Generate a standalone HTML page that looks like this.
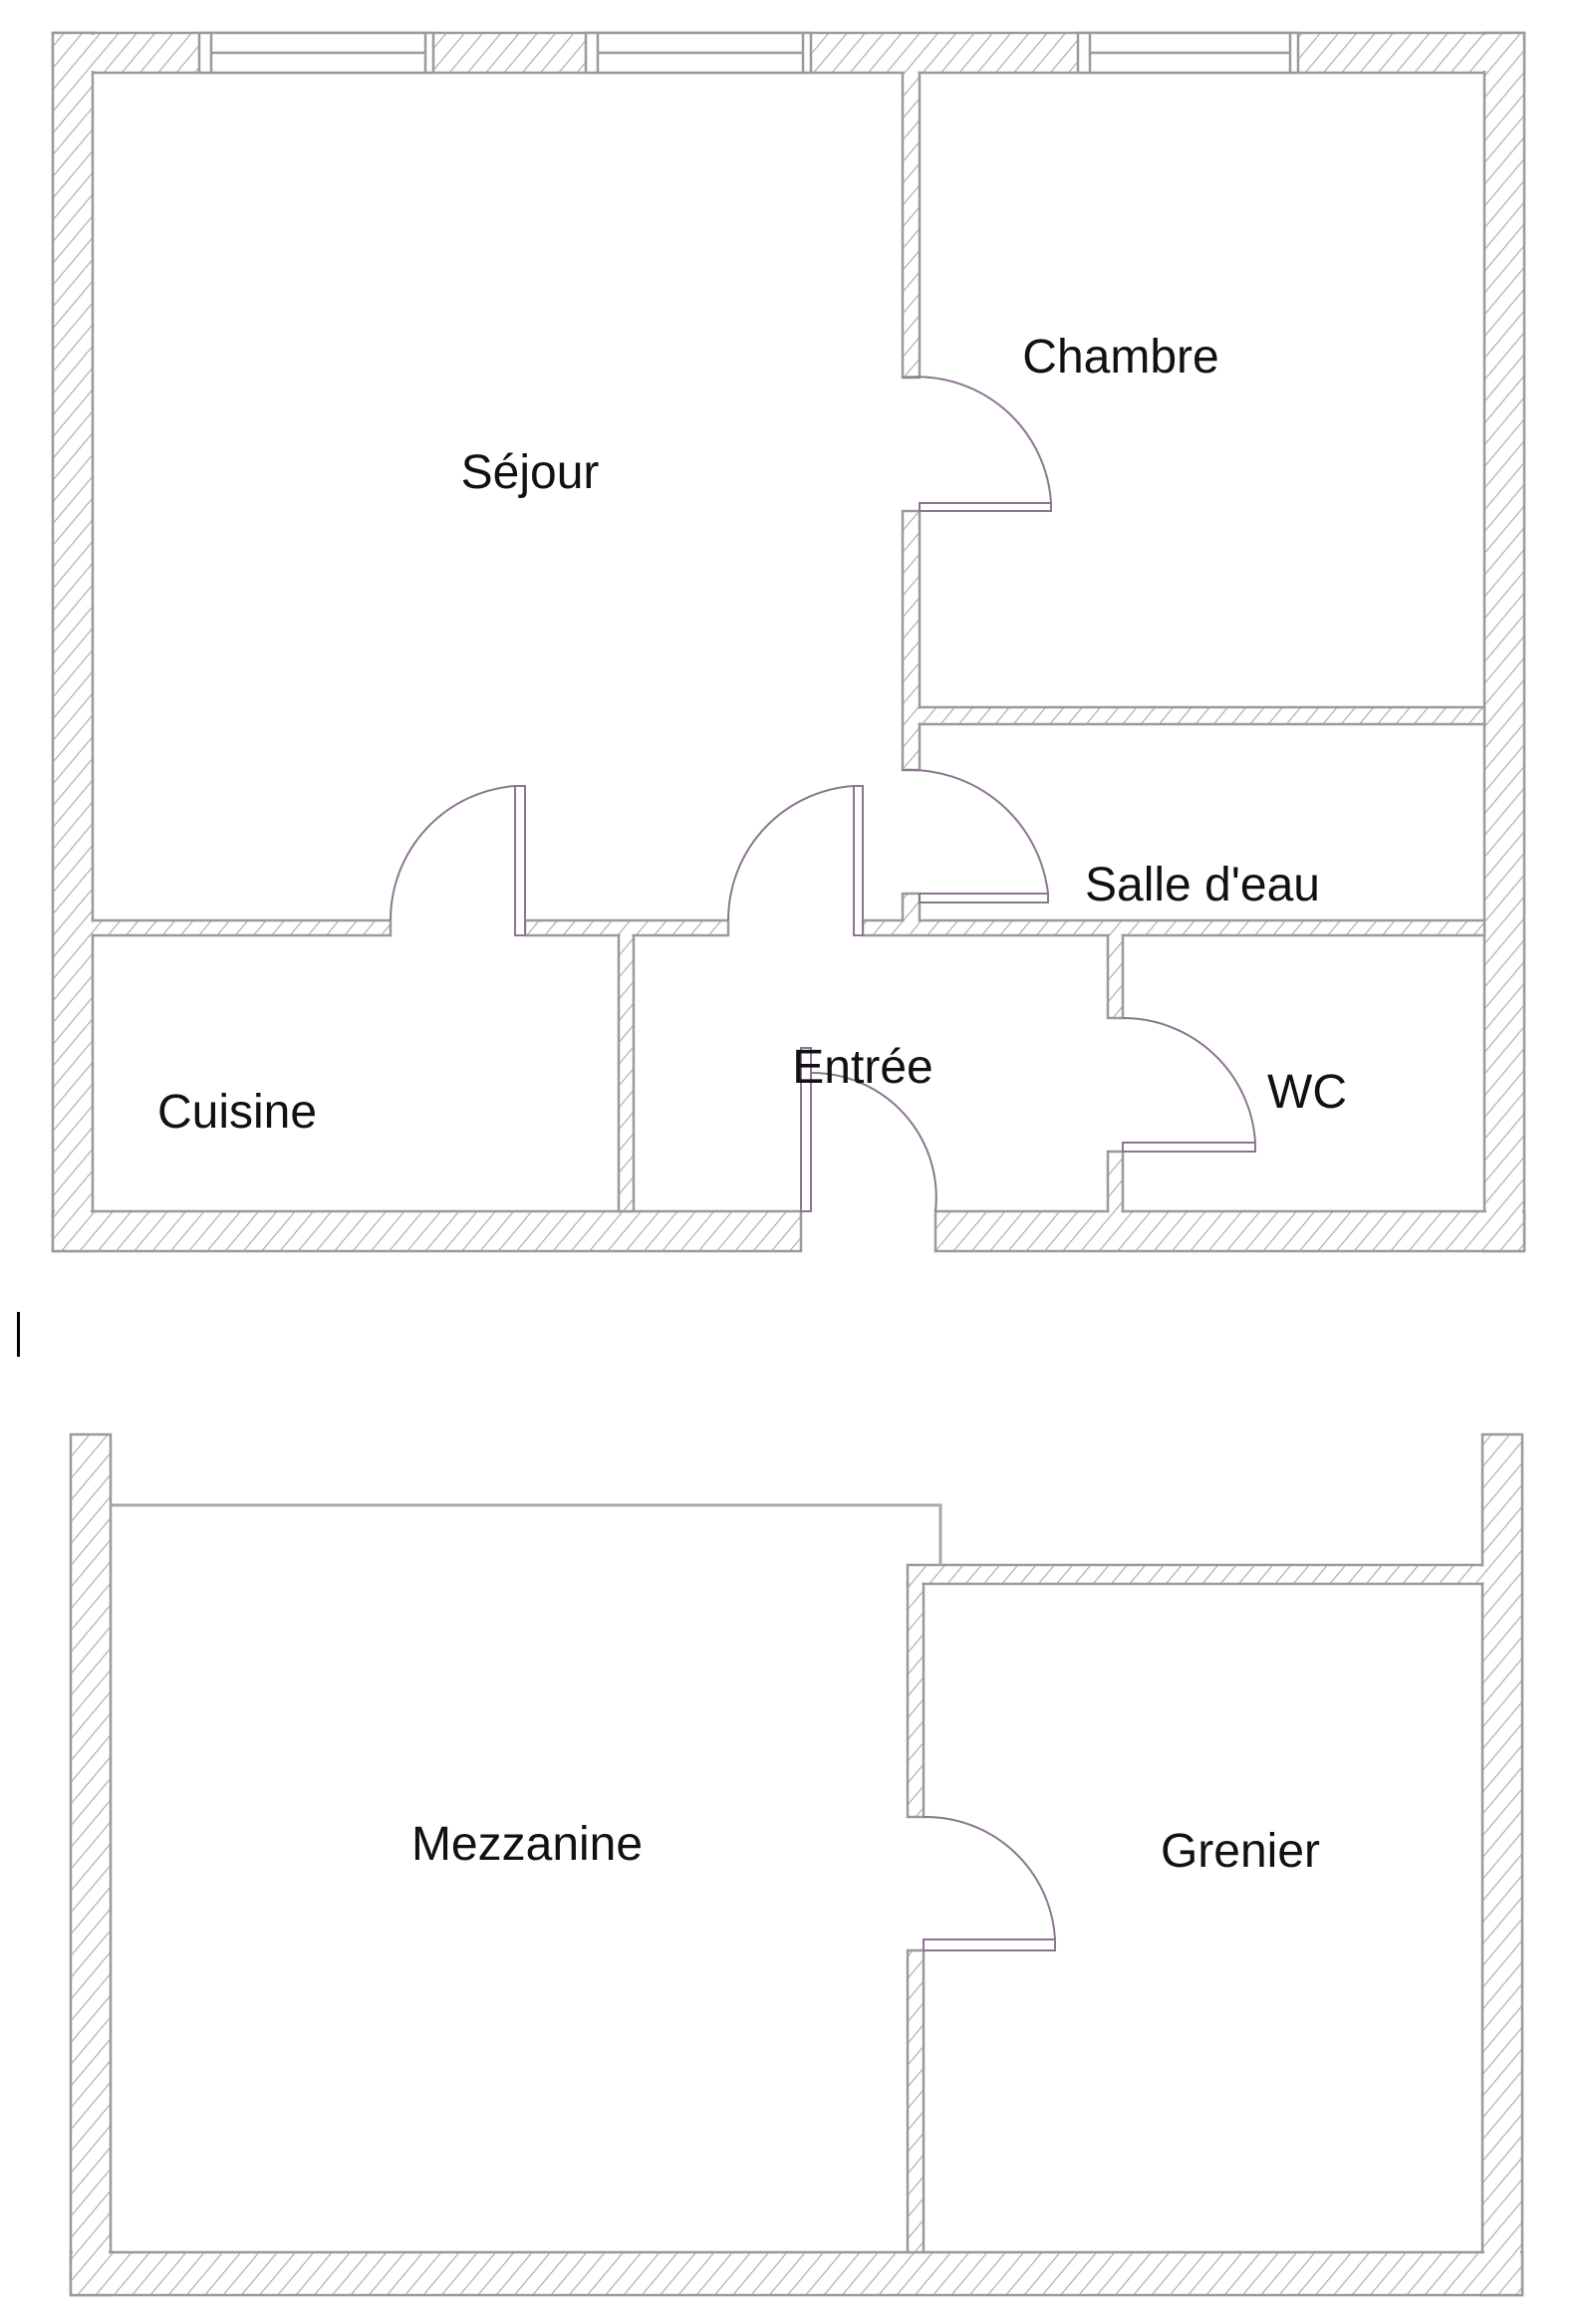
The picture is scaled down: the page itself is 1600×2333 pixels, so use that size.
<!DOCTYPE html>
<html><head><meta charset="utf-8"><style>
html,body{margin:0;padding:0;background:#fff;}
svg{display:block;}
text{font-family:"Liberation Sans",Arial,sans-serif;font-size:48px;fill:#111;text-anchor:middle;}
</style></head><body>
<svg width="1600" height="2333" viewBox="0 0 1600 2333" xmlns="http://www.w3.org/2000/svg">
<defs>
<pattern id="h" patternUnits="userSpaceOnUse" width="14" height="14" patternTransform="rotate(40)">
<rect width="14" height="14" fill="#fff"/>
<line x1="0" y1="0" x2="0" y2="14" stroke="#a8a8a8" stroke-width="2.2"/>
</pattern>
</defs>
<g id="walls" stroke="#9a9a9a" stroke-width="2.5" fill="url(#h)">
<rect x="53" y="33" width="1477" height="40"/>
<rect x="53" y="33" width="40" height="1223"/>
<rect x="1490" y="33" width="40" height="1223"/>
<rect x="53" y="1216" width="751" height="40"/>
<rect x="939" y="1216" width="591" height="40"/>
<rect x="906" y="73" width="17" height="306"/>
<rect x="906" y="513" width="17" height="260"/>
<rect x="906" y="897" width="17" height="27"/>
<rect x="923" y="710" width="567" height="17"/>
<rect x="93" y="924" width="299" height="15"/>
<rect x="527" y="924" width="204" height="15"/>
<rect x="866" y="924" width="624" height="15"/>
<rect x="621" y="939" width="15" height="277"/>
<rect x="1112" y="939" width="15" height="83"/>
<rect x="1112" y="1156" width="15" height="60"/>
<rect x="71" y="1440" width="40" height="864"/>
<rect x="1488" y="1440" width="40" height="864"/>
<rect x="71" y="2261" width="1457" height="43"/>
<rect x="911" y="1571" width="577" height="19"/>
<rect x="911" y="1590" width="16" height="234"/>
<rect x="911" y="1958" width="16" height="303"/>
</g>
<!-- cover internal junction lines -->
<g fill="url(#h)" stroke="none">
<rect x="55" y="35" width="1473" height="36"/>
<rect x="55" y="35" width="36" height="1219"/>
<rect x="1492" y="35" width="36" height="1219"/>
<rect x="55" y="1218" width="747" height="36"/>
<rect x="941" y="1218" width="587" height="36"/>
<rect x="907.5" y="70" width="14" height="307"/>
<rect x="907.5" y="515" width="14" height="256"/>
<rect x="907.5" y="899" width="14" height="36"/>
<rect x="920" y="711.5" width="568" height="14"/>
<rect x="90" y="925.5" width="300" height="12"/>
<rect x="529" y="925.5" width="200" height="12"/>
<rect x="868" y="925.5" width="620" height="12"/>
<rect x="622.5" y="936" width="12" height="278"/>
<rect x="1113.5" y="936" width="12" height="84"/>
<rect x="1113.5" y="1158" width="12" height="60"/>
<rect x="73" y="1442" width="36" height="860"/>
<rect x="1490" y="1442" width="36" height="860"/>
<rect x="73" y="2263" width="1453" height="39"/>
<rect x="913" y="1572.5" width="577" height="16"/>
<rect x="912.5" y="1586" width="13" height="236"/>
<rect x="912.5" y="1960" width="13" height="299"/>
</g>
<!-- windows -->
<g fill="#fff" stroke="#9a9a9a" stroke-width="2.5">
<rect x="200" y="33" width="235" height="40"/>
<rect x="588" y="33" width="226" height="40"/>
<rect x="1082" y="33" width="221" height="40"/>
</g>
<g stroke="#9a9a9a" stroke-width="2.5">
<line x1="212" y1="33" x2="212" y2="73"/><line x1="427" y1="33" x2="427" y2="73"/><line x1="212" y1="53" x2="427" y2="53"/>
<line x1="600" y1="33" x2="600" y2="73"/><line x1="806" y1="33" x2="806" y2="73"/><line x1="600" y1="53" x2="806" y2="53"/>
<line x1="1094" y1="33" x2="1094" y2="73"/><line x1="1295" y1="33" x2="1295" y2="73"/><line x1="1094" y1="53" x2="1295" y2="53"/>
</g>
<!-- doors -->
<g fill="#fff" stroke="#8c7590" stroke-width="2">
<rect x="517" y="789" width="10" height="150"/>
<path d="M392,924 A135,135 0 0 1 517,789" fill="none"/>
<rect x="857" y="789" width="9" height="150"/>
<path d="M731,924 A135,135 0 0 1 857,789" fill="none"/>
<rect x="923" y="897" width="129" height="9"/>
<path d="M906,773 A140,140 0 0 1 1052,897" fill="none"/>
<rect x="923" y="505" width="132" height="8"/>
<path d="M906,379 A135,135 0 0 1 1055,505" fill="none"/>
<rect x="1127" y="1147" width="133" height="9"/>
<path d="M1127,1022 A133,133 0 0 1 1260,1147" fill="none"/>
<rect x="804" y="1052" width="10" height="164"/>
<path d="M814,1077 A125,125 0 0 1 939,1216" fill="none"/>
<rect x="927" y="1947" width="132" height="11"/>
<path d="M927,1824 A130,130 0 0 1 1059,1947" fill="none"/>
</g>
<polyline points="111,1511 944,1511 944,1571" fill="none" stroke="#a8a8a8" stroke-width="3"/>
<rect x="17" y="1317" width="3" height="45" fill="#000"/>
<text x="532" y="490">Séjour</text>
<text x="1125" y="374">Chambre</text>
<text x="1207" y="904">Salle d'eau</text>
<text x="866" y="1087">Entrée</text>
<text x="238" y="1132">Cuisine</text>
<text x="1312" y="1112">WC</text>
<text x="529" y="1867">Mezzanine</text>
<text x="1245" y="1874">Grenier</text>
</svg>
</body></html>
